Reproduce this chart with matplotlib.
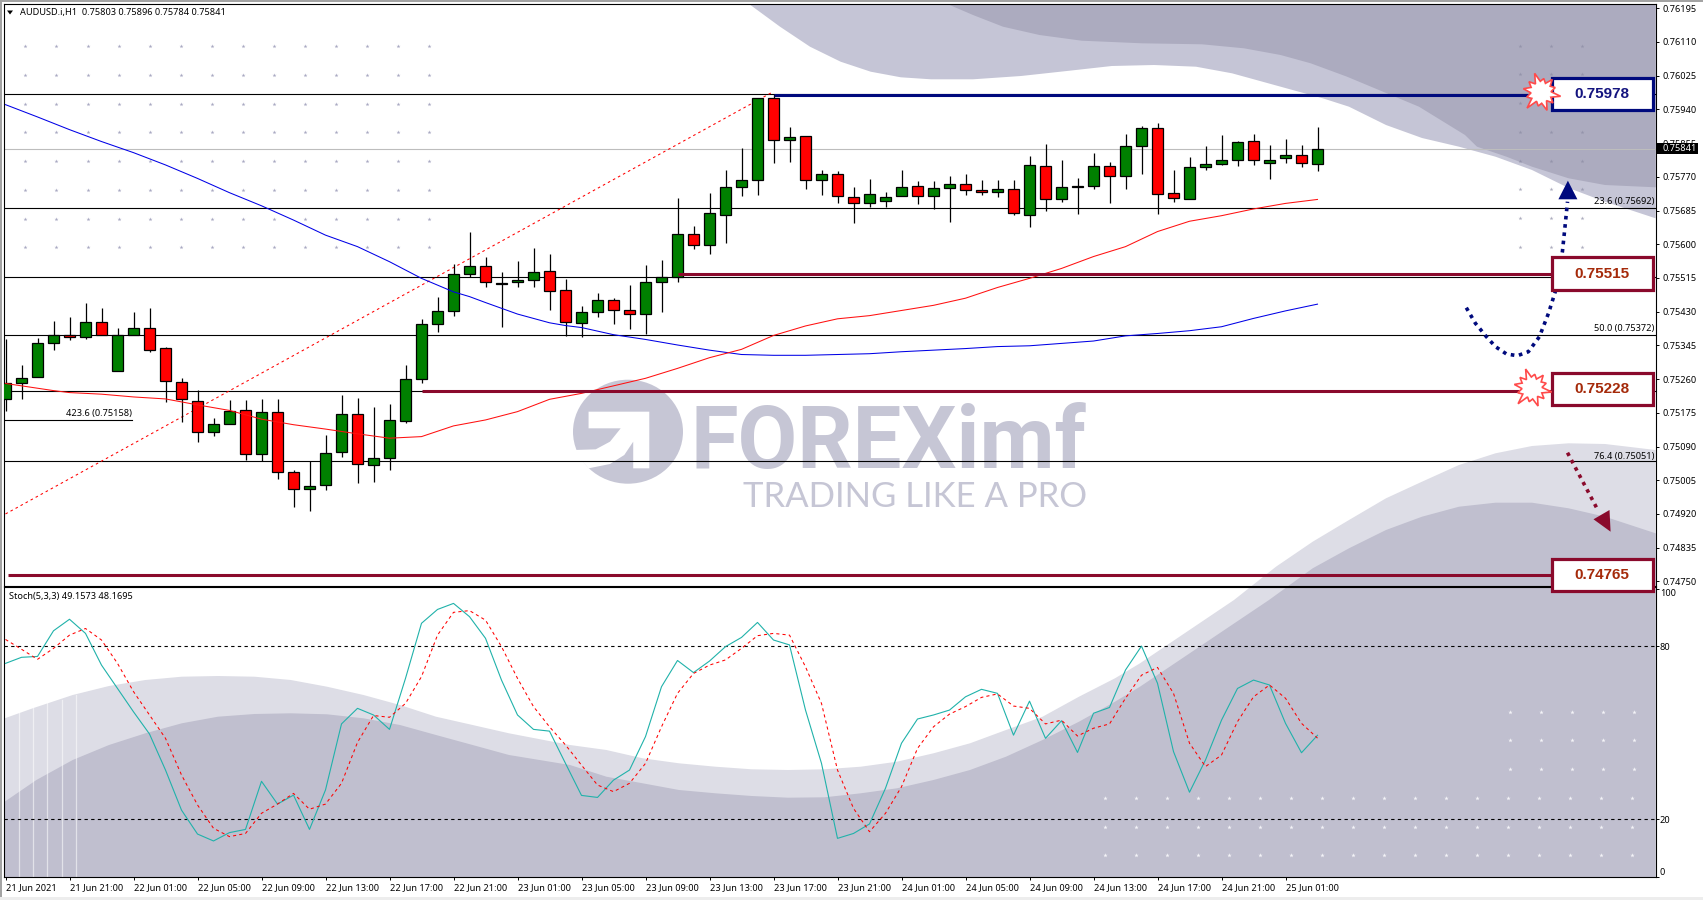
import numpy as np
import matplotlib
matplotlib.use("Agg")
import matplotlib.pyplot as plt
from matplotlib.patches import Polygon, Rectangle, Ellipse

W, H = 1703, 900
FONT = "Noto Sans"
plt.rcParams["font.family"] = [FONT, "DejaVu Sans"]

# candles, price in points (1e-5)
opens = [75209,75249,75266,75350,75372,75367,75403,75281,75370,75388,75338,75252,75206,75126,75146,75181,75070,75176,75027,74982,
         74992,75075,75171,75043,75060,75154,75259,75398,75431,75524,75544,75501,75504,75509,75532,75484,75402,75428,75459,75433,
         75423,75504,75517,75625,75597,75675,75744,75761,75970,75862,75872,75761,75776,75718,75703,75708,75721,75746,75721,75741,
         75751,75736,75733,75739,75675,75797,75713,75745,75746,75797,75771,75849,75892,75728,75713,75794,75802,75812,75860,75804,
         75817,75824,75803]
highs = [75360,75296,75363,75406,75416,75451,75439,75388,75429,75439,75341,75264,75232,75162,75207,75207,75210,75210,75031,75053,
         75119,75220,75212,75190,75197,75296,75412,75468,75550,75630,75568,75530,75558,75591,75575,75512,75444,75478,75465,75497,
         75548,75560,75717,75646,75729,75787,75843,75970,75978,75896,75872,75787,75784,75744,75765,75732,75787,75760,75760,75772,
         75777,75762,75762,75762,75823,75853,75812,75767,75830,75807,75878,75898,75906,75787,75820,75848,75875,75860,75877,75850,
         75865,75850,75896]
lows = [75180,75211,75266,75333,75359,75362,75370,75281,75370,75329,75203,75153,75102,75117,75146,75056,75053,75008,74938,74928,
        74980,75064,74999,75001,75031,75150,75251,75379,75420,75517,75493,75392,75492,75493,75434,75369,75367,75417,75399,75387,
        75374,75428,75506,75589,75576,75602,75722,75725,75806,75808,75740,75725,75705,75654,75695,75695,75721,75702,75690,75657,
        75725,75725,75720,75674,75644,75685,75707,75677,75740,75705,75740,75777,75677,75707,75713,75786,75801,75798,75801,75765,
        75806,75796,75784]
closes = [75249,75262,75350,75372,75367,75403,75371,75371,75388,75334,75254,75209,75126,75146,75179,75070,75176,75027,74982,74990,
          75073,75171,75045,75060,75156,75259,75398,75431,75524,75544,75504,75502,75509,75529,75481,75403,75428,75459,75433,75423,
          75504,75517,75625,75597,75678,75744,75761,75970,75862,75870,75761,75776,75721,75703,75726,75718,75744,75721,75741,75751,
          75736,75731,75739,75678,75799,75713,75744,75746,75797,75771,75849,75892,75726,75716,75794,75802,75812,75857,75812,75812,
          75824,75804,75841]

ma_idx = [0,1,3,4,6,8,10,12,14,16,18,20,22,24,26,28,30,32,34,36,38,40,42,44,46,48,50,52,54,56,58,60,62,64,66,68,70,72,74,76,78,80,82]
ma_red = [75249,75243,75231,75226,75222,75215,75210,75195,75181,75159,75145,75134,75122,75111,75115,75142,75157,75178,75209,
          75224,75243,75262,75287,75314,75335,75370,75394,75412,75420,75433,75446,75464,75491,75514,75539,75569,75594,75632,75658,75672,75689,75703,75713]
ma_blue_idx = [0,2,4,6,8,10,12,14,16,18,20,22,24,26,28,29,30,32,34,35,36,38,40,42,44,46,48,50,52,54,56,58,60,62,64,66,68,70,72,74,76,78,80,82]
ma_blue = [75952,75921,75889,75859,75831,75800,75766,75730,75697,75661,75623,75594,75556,75514,75480,75468,75453,75424,75402,75395,
           75390,75372,75360,75346,75333,75322,75320,75320,75322,75324,75329,75333,75337,75342,75344,75350,75356,75369,75375,75382,75392,75413,75432,75449]

stoch_main = [74.1,76.2,76.5,85.4,89.4,84.5,73.5,65.4,57.3,49.6,37.1,23.2,14.9,12.5,15.4,16.5,33.2,25.3,28.4,16.5,
              30.2,53.1,58.5,56.2,51.2,68.9,88.0,92.8,94.9,90.3,82.8,68.3,56.2,51.2,50.6,39.4,28.3,27.6,33.6,37.1,
              48.7,66.0,75.1,70.9,74.9,79.9,83.1,88.3,82.2,80.5,57.9,39.4,13.4,15.1,18.4,30.8,46.4,54.8,56.2,57.9,
              62.5,65.1,63.7,49.2,61.0,48.1,54.2,43.2,56.8,58.8,71.8,80.1,67.2,43.5,29.4,40.6,54.4,65.4,68.3,66.6,
              53.3,43.1,49.16]
stoch_signal = [82.4,79.0,75.5,79.3,83.9,86.2,82.2,74.1,64.3,56.2,48.1,35.4,25.0,16.9,14.0,15.1,22.1,25.3,29.0,23.5,
                25.3,32.5,46.7,56.0,55.4,60.2,69.5,83.9,91.8,92.4,89.1,79.9,68.9,59.1,52.1,45.8,38.8,31.9,29.6,32.5,
                39.4,52.1,63.7,70.6,73.5,75.3,79.3,83.7,84.5,83.9,72.9,60.2,37.1,23.8,15.7,22.1,31.3,44.6,52.1,56.5,
                59.1,62.3,63.5,59.3,58.5,53.1,54.4,48.9,51.6,53.1,62.0,70.0,72.7,63.7,46.4,38.3,42.3,53.9,62.5,66.6,
                62.0,53.3,48.17]

fib_levels = [75978, 75692, 75517, 75372, 75229, 75053]
price_ticks = [76195 - 85 * k for k in range(18)]
date_labels = ["21 Jun 2021", "21 Jun 21:00", "22 Jun 01:00", "22 Jun 05:00", "22 Jun 09:00", "22 Jun 13:00", "22 Jun 17:00",
               "22 Jun 21:00", "23 Jun 01:00", "23 Jun 05:00", "23 Jun 09:00", "23 Jun 13:00", "23 Jun 17:00", "23 Jun 21:00",
               "24 Jun 01:00", "24 Jun 05:00", "24 Jun 09:00", "24 Jun 13:00", "24 Jun 17:00", "24 Jun 21:00", "25 Jun 01:00"]
box_levels = ["0.75978", "0.75515", "0.75228", "0.74765"]

# watermark outlines, in image pixels
top_light = [(750,4.7),(780,26.7),(810,46.7),(840.6,61.7),(870.7,71.7),(900.8,77.3),(931,79.3),(973,79.3),(1021,76),(1069.6,70.7),
             (1111.8,66),(1154,65),(1196,66.7),(1232,73.3),(1262.5,81.7),(1292.6,90),(1322.8,98.3),(1349,106.7),(1386,125),(1422,138),
             (1459,146.7),(1495.5,156.7),(1532,170),(1568.6,188),(1605,201.7),(1655.6,218.3)]
top_dark = [(949,4.7),(973,15),(1003,26.7),(1039.5,35),(1081.7,40.7),(1142,43.3),(1202,44.3),(1244,48.3),(1280.6,55),(1310.7,63.3),
            (1347,76.7),(1383,91.7),(1419,106.7),(1465,135),(1477,146.7),(1506.5,156.7),(1532,166.7),(1568.6,178.3),(1605,185),(1655.6,187.3)]
low_light = [(4.7,718.3),(32.7,708.3),(72.7,695),(109,686),(145.4,680),(181.8,676.7),(218,676),(254.5,676.7),(290.8,680),(327,686.7),
             (363.5,695),(400,705),(436,716.7),(472.6,725),(509,733.3),(570,745),(606.4,750),(642.7,758.3),(679,763.3),(715.4,766.7),
             (751.8,769.3),(788,770),(824.5,769.3),(860.8,766.7),(897,761.7),(933.5,753.3),(970,743.3),(1006,730),(1042.6,716.7),
             (1079,696.7),(1115,678.3),(1140,663.3),(1234,600),(1276,566.7),(1312.7,541.7),(1349,520),(1386,498.3),(1422,481.7),
             (1459,465),(1495.5,453.3),(1532,446),(1568.6,443.3),(1605,444),(1655.6,450)]
low_dark = [(4.7,801.7),(36.4,780),(72.7,760),(109,745),(145.4,733.3),(181.8,723.3),(218,716.7),(254.5,714),(290.8,713.3),(327,714.3),
            (363.5,718.3),(400,725),(436,735),(472.6,745),(509,755),(570,765),(606.4,776.7),(642.7,783.3),(679,790),(715.4,793.3),
            (751.8,796),(788,797.7),(824.5,797.3),(860.8,793.3),(897,788.3),(933.5,780),(970,770),(1006,756.7),(1042.6,740),(1079,721.7),
            (1115,701.7),(1140,686.7),(1269,600),(1312.7,568.3),(1349,548.3),(1386,530),(1422,516.7),(1459,506.7),(1495.5,502.7),
            (1532,502.7),(1568.6,508.3),(1605,516.7),(1655.6,533.3)]
logo_cut = [(80,155),(250,155),(250,325),(205,325),(205,245),(180,285),(140,312),(80,325),(50,290),(40,270),(100,268),(140,245),(170,205),(80,205)]

# arrows on the right, image pixels
navy_curve = [(1466.3,307.7),(1475.4,323.3),(1486.4,336.7),(1495.5,346.7),(1506.5,354),(1517.4,355.7),(1528.4,351.7),(1539.4,336.7),
              (1548.5,313.3),(1555.8,290),(1562.4,251.7),(1565,226.7),(1567.5,201.7)]
navy_head = [(1567.9,180.7),(1558.4,199.3),(1577.4,199.3)]
red_curve = [(1567.5,452.7),(1597.8,510)]
red_head = [(1609.5,510),(1593.5,519.3),(1610.6,531.7)]
burst_radii = [20,11,16,10,19,11,14,10,21,11,15,10,18,11,16,10,20,11,14,10,17,11,15,10]

NAVY = "#000a7d"
MAROON = "#8a0a2c"
GREEN = "#008000"
RED = "#ff0000"

# pixel calibration of the two panels
PX_LEFT, PX_RIGHT = 4.4, 1655.6
MAIN_TOP, MAIN_BOT = 4.3, 585.7
ST_TOP, ST_BOT = 586.7, 877.3


def px_to_price(y):
    return 76025 - (y - 75.7) / 0.3966


def idx_to_px_inv(px):
    return (px - 5.5) / 16


def make_ax(top, bot):
    return fig.add_axes([PX_LEFT / W, 1 - bot / H, (PX_RIGHT - PX_LEFT) / W, (bot - top) / H])


fig = plt.figure(figsize=(W / 100, H / 100), dpi=100, facecolor="white")

# background layer in image pixels
bg = fig.add_axes([0, 0, 1, 1], zorder=0)
bg.set_xlim(0, W)
bg.set_ylim(H, 0)
bg.axis("off")
bg.add_patch(Rectangle((0, 0), W, 1.8, color="#a3a3a3", lw=0))
bg.add_patch(Rectangle((0, 0), 1.8, 897, color="#a3a3a3", lw=0))
bg.add_patch(Rectangle((0, 897), W, 3, color="#ededed", lw=0))

right_top = [(PX_RIGHT, 4.7)]
bg.add_patch(Polygon(top_light + right_top, closed=True, color="#c5c5d6", lw=0))
bg.add_patch(Polygon(top_dark + right_top, closed=True, color="#acabbf", lw=0))
close_low = [(PX_RIGHT, ST_BOT), (PX_LEFT, ST_BOT)]
bg.add_patch(Polygon(low_light + close_low, closed=True, color="#dddde6", lw=0))
bg.add_patch(Polygon(low_dark + close_low, closed=True, color="#c0bfcf", lw=0))

for sx, sy in [(18.9, 710), (32.7, 708), (47.3, 703), (61.8, 700), (75.6, 695)]:
    bg.plot([sx, sx], [sy, ST_BOT], color="white", lw=0.9, alpha=0.55)

# dot grids
grid_x = 25.4 + 31.05 * np.arange(14)
grid_y = [46, 75, 103.7, 132.3, 161, 189.7, 218.7, 247.3]
gx, gy = np.meshgrid(grid_x, grid_y)
bg.scatter(gx.ravel(), gy.ravel(), s=9, marker="*", color="#a9a9c2", lw=0)
gx, gy = np.meshgrid([1520, 1551, 1582], [46, 74.3, 103, 131.7, 161, 189.3, 218.3, 246.7])
bg.scatter(gx.ravel(), gy.ravel(), s=9, marker="*", color="#8b8ba3", alpha=0.7, lw=0)
gx, gy = np.meshgrid(1105 + 31 * np.arange(18), [797.7, 826.7, 855.3])
bg.scatter(gx.ravel(), gy.ravel(), s=11, marker="*", color="#f4f4f8", lw=0)
gx, gy = np.meshgrid(1510 + 31 * np.arange(5), [711.7, 740.3, 769])
bg.scatter(gx.ravel(), gy.ravel(), s=11, marker="*", color="#f4f4f8", lw=0)

# logo
LOGO = "#c6c6d5"
bg.add_patch(Ellipse((628, 431.7), 110, 104, color=LOGO, lw=0))
bg.add_patch(Polygon([(560 + a / 2.8, 360 + b / 3) for a, b in logo_cut], closed=True, color="white", lw=0))
bg.text(691, 468.3, "FOREXimf", fontsize=62.5, fontweight="bold", family="Roboto", color=LOGO, ha="left", va="baseline")
bg.text(743, 507, "TRADING LIKE A PRO", fontsize=25, family="Lato", color=LOGO, ha="left", va="baseline")

# price panel
ax = make_ax(MAIN_TOP, MAIN_BOT)
ax.set_zorder(1)
ax.patch.set_alpha(0)
x = np.arange(len(opens))
o, h, l, c = [np.array(v) / 1e5 for v in (opens, highs, lows, closes)]

for lev in fib_levels:
    ax.axhline(lev / 1e5, color="black", lw=0.8, zorder=1)
ax.axhline(closes[-1] / 1e5, color="#bdbdbd", lw=0.8, zorder=1)
ax.plot([idx_to_px_inv(PX_LEFT), idx_to_px_inv(131.6)], [0.75158, 0.75158], color="black", lw=0.8, zorder=1)

# fibo trend line
ax.plot([0, 48], [0.74920, 0.75985], color="red", lw=0.75, ls=(0, (2.5, 3)), zorder=1.5)

ax.vlines(x, l, h, color="black", lw=0.9, zorder=2)
body_col = [GREEN if cl > op else RED for op, cl in zip(o, c)]
ax.bar(x, np.abs(c - o), bottom=np.minimum(o, c), width=0.63, color=body_col, edgecolor="black", lw=0.9, zorder=3)

ax.plot(np.array(ma_blue_idx), np.array(ma_blue) / 1e5, color="#0000e6", lw=0.75, zorder=4)
ax.plot(np.array(ma_idx), np.array(ma_red) / 1e5, color="#ff1010", lw=0.75, zorder=4)

# level lines from the analyst
ax.plot([48, idx_to_px_inv(1552)], [0.759755, 0.759755], color=NAVY, lw=2.2, zorder=5, solid_capstyle="butt")
ax.plot([42, idx_to_px_inv(1552)], [0.75524, 0.75524], color=MAROON, lw=2.2, zorder=5, solid_capstyle="butt")
ax.plot([26, idx_to_px_inv(1552)], [0.75231, 0.75231], color=MAROON, lw=2.2, zorder=5, solid_capstyle="butt")
ax.plot([idx_to_px_inv(8), idx_to_px_inv(1552)], [0.74765, 0.74765], color=MAROON, lw=2.2, zorder=5, solid_capstyle="butt")

ax.set_xlim(idx_to_px_inv(PX_LEFT), idx_to_px_inv(PX_RIGHT))
ax.set_ylim(px_to_price(MAIN_BOT) / 1e5, px_to_price(MAIN_TOP) / 1e5)
ax.set_xticks([])
ax.yaxis.tick_right()
ax.set_yticks([p / 1e5 for p in price_ticks])
ax.set_yticklabels([f"{p / 1e5:.5f}" for p in price_ticks])
ax.tick_params(axis="y", length=2.5, width=0.7, pad=2.5, labelsize=6.6, direction="out")
for s in ax.spines.values():
    s.set_linewidth(0.8)

# stochastic panel
ax2 = make_ax(ST_TOP, ST_BOT)
ax2.set_zorder(1)
ax2.patch.set_alpha(0)
for lev in (80, 20):
    ax2.axhline(lev, color="black", lw=0.8, ls=(0, (3, 3)), zorder=1)
ax2.plot(x, stoch_main, color="#20b2aa", lw=0.8, zorder=3)
ax2.plot(x, stoch_signal, color="red", lw=0.75, ls=(0, (3, 3)), zorder=3)
ax2.set_xlim(ax.get_xlim())
ax2.set_ylim((877 - ST_BOT) / 2.883, (877 - ST_TOP) / 2.883)
ax2.yaxis.tick_right()
ax2.set_yticks([0, 20, 80, 100])
ax2.set_yticklabels(["0", "20", "80", "100"])
ax2.tick_params(axis="y", length=2, width=0.7, pad=1, labelsize=6.6)
ylabs = ax2.get_yticklabels()
ylabs[0].set_va("bottom")
ylabs[3].set_va("top")
ax2.set_xticks(x[::4])
ax2.set_xticklabels(date_labels, ha="left")
ax2.tick_params(axis="x", length=2.5, width=0.7, pad=1.5, labelsize=6.6)
for s in ax2.spines.values():
    s.set_linewidth(0.8)

# foreground layer in image pixels
fg = fig.add_axes([0, 0, 1, 1], zorder=3)
fg.set_xlim(0, W)
fg.set_ylim(H, 0)
fg.axis("off")
fg.patch.set_alpha(0)

TXT = dict(fontsize=6.6, color="black", va="center")
fg.add_patch(Polygon([(7, 10.5), (13, 10.5), (10, 14.5)], closed=True, color="black", lw=0))
fg.text(20.5, 12.7, "AUDUSD.i,H1  0.75803 0.75896 0.75784 0.75841", ha="left", **TXT)
fg.text(9, 596.7, "Stoch(5,3,3) 49.1573 48.1695", ha="left", **TXT)
fg.text(131.6, 413.3, "423.6 (0.75158)", ha="right", **TXT)
fg.text(1654, 201.7, "23.6 (0.75692)", ha="right", **TXT)
fg.text(1654, 328.3, "50.0 (0.75372)", ha="right", **TXT)
fg.text(1654, 456, "76.4 (0.75051)", ha="right", **TXT)

# current price tag
fg.add_patch(Rectangle((1657, 143), 41, 10.7, color="black", lw=0))
fg.text(1662.5, 148.5, "0.75841", fontsize=6.6, color="white", va="center", ha="left")

# value boxes
box_pos = [(77.7, 110.3), (257.3, 290), (373.3, 405), (558.7, 591.3)]
box_col = [NAVY, MAROON, MAROON, MAROON]
txt_col = ["#14147f", "#a52a0a", "#a52a0a", "#a52a0a"]
for lab, (top, bot), col, tc in zip(box_levels, box_pos, box_col, txt_col):
    fg.add_patch(Rectangle((1552, top), 100.5, bot - top, facecolor="white", edgecolor=col, lw=2.3, zorder=3))
    fg.text(1602, (top + bot) / 2, lab, fontsize=11, fontweight="bold", family="Liberation Sans", color=tc,
            ha="center", va="center", zorder=4)

# bursts sit over the boxes
for cx, cy in [(1541, 92.3), (1532, 388)]:
    ang = np.linspace(0, 2 * np.pi, len(burst_radii), endpoint=False) + 0.2
    pts = [(cx + r * np.cos(t), cy + r * np.sin(t)) for r, t in zip(burst_radii, ang)]
    fg.add_patch(Polygon(pts, closed=True, facecolor="white", edgecolor="#ff4a4a", lw=1.2, zorder=5))

# dotted arrows
xs, ys = zip(*navy_curve)
fg.plot(xs, ys, color=NAVY, lw=2.6, ls=(0, (1, 1.3)), zorder=2)
fg.add_patch(Polygon(navy_head, closed=True, color=NAVY, lw=0, zorder=2))
xs, ys = zip(*red_curve)
fg.plot(xs, ys, color=MAROON, lw=2.6, ls=(0, (1, 1.3)), zorder=2)
fg.add_patch(Polygon(red_head, closed=True, color=MAROON, lw=0, zorder=2))

fig.savefig("out.png", dpi=100)
